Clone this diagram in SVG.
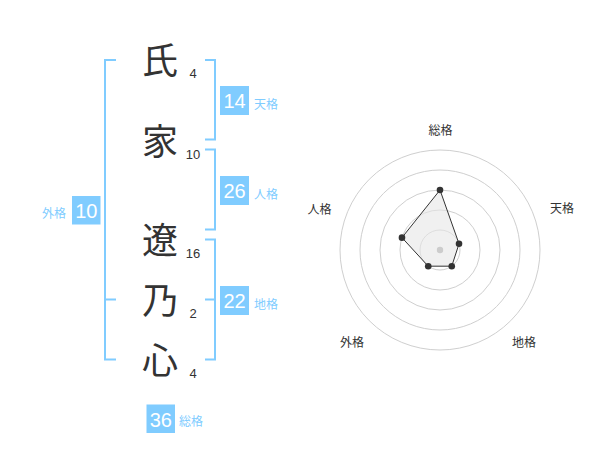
<svg xmlns="http://www.w3.org/2000/svg" width="600" height="470" viewBox="0 0 600 470">
<style>
.ch{font-family:"Noto Sans CJK JP","Noto Sans CJK SC",sans-serif;font-size:36px;fill:#333;text-anchor:middle}
.st{font-family:"Liberation Sans",Arial,sans-serif;font-size:13px;fill:#333;text-anchor:middle}
.br{fill:none;stroke:#80ccff;stroke-width:2}
.bx{fill:#80ccff}
.bn{font-family:"Liberation Sans",Arial,sans-serif;font-size:20px;fill:#fff;text-anchor:middle}
.lb{font-family:"Noto Sans CJK JP","Noto Sans CJK SC",sans-serif;font-size:12px;fill:#80ccff}
.rl{font-family:"Noto Sans CJK JP","Noto Sans CJK SC",sans-serif;font-size:12px;fill:#333;text-anchor:middle}
.ring{fill:none;stroke:#cfcfcf;stroke-width:1}
.pt{fill:#333}
</style>
<rect width="600" height="470" fill="#fff"/>
<g id="chars">
<text class="ch" x="160" y="73.5">氏</text>
<text class="ch" x="160" y="154.5">家</text>
<text class="ch" x="160" y="253.5">遼</text>
<text class="ch" x="160" y="313.5">乃</text>
<text class="ch" x="160" y="373.5">心</text>
</g>
<g id="strokes">
<text class="st" x="193" y="77.5">4</text>
<text class="st" x="193" y="158.5">10</text>
<text class="st" x="193" y="257.5">16</text>
<text class="st" x="193" y="317.5">2</text>
<text class="st" x="193" y="377.5">4</text>
</g>
<g id="connectors">
<path class="br" d="M116,60H105V359.5H116M105,299.5H116"/>
<path class="br" d="M205,60H215V139.5H205"/>
<path class="br" d="M205,149.5H215V229.5H205"/>
<path class="br" d="M205,239.5H215V359.5H205M205,299.5H215"/>
</g>
<g id="tenkaku">
<rect class="bx" x="220" y="86" width="29" height="29"/>
<text class="bn" x="234.5" y="108">14</text>
<text class="lb" x="254" y="108.5">天格</text>
</g>
<g id="jinkaku">
<rect class="bx" x="220" y="176" width="29" height="29"/>
<text class="bn" x="234.5" y="198">26</text>
<text class="lb" x="254" y="198.5">人格</text>
</g>
<g id="chikaku">
<rect class="bx" x="220" y="286" width="29" height="29"/>
<text class="bn" x="234.5" y="308">22</text>
<text class="lb" x="254" y="308.5">地格</text>
</g>
<g id="gaikaku">
<rect class="bx" x="72" y="196" width="28.5" height="28.5"/>
<text class="bn" x="86.25" y="218">10</text>
<text class="lb" x="42" y="218">外格</text>
</g>
<g id="soukaku">
<rect class="bx" x="146.5" y="404.5" width="28.5" height="28.5"/>
<text class="bn" x="160.75" y="426.5">36</text>
<text class="lb" x="179" y="426">総格</text>
</g>
<g id="radar">
<circle class="ring" cx="440" cy="250" r="20"/>
<circle class="ring" cx="440" cy="250" r="40"/>
<circle class="ring" cx="440" cy="250" r="60"/>
<circle class="ring" cx="440" cy="250" r="80"/>
<circle class="ring" cx="440" cy="250" r="100"/>
<polygon points="440,190 459.02,243.82 451.76,266.18 428.24,266.18 401.96,237.64" fill="#e6e6e6" fill-opacity="0.6" stroke="#333" stroke-width="1"/>
<circle cx="440" cy="250" r="3.2" fill="#ccc"/>
<circle class="pt" cx="440" cy="190" r="3.3"/>
<circle class="pt" cx="459.02" cy="243.82" r="3.3"/>
<circle class="pt" cx="451.76" cy="266.18" r="3.3"/>
<circle class="pt" cx="428.24" cy="266.18" r="3.3"/>
<circle class="pt" cx="401.96" cy="237.64" r="3.3"/>
<text class="rl" x="440.5" y="135">総格</text>
<text class="rl" x="562" y="213">天格</text>
<text class="rl" x="319.5" y="213.5">人格</text>
<text class="rl" x="352" y="346.5">外格</text>
<text class="rl" x="524" y="346.5">地格</text>
</g>
</svg>
